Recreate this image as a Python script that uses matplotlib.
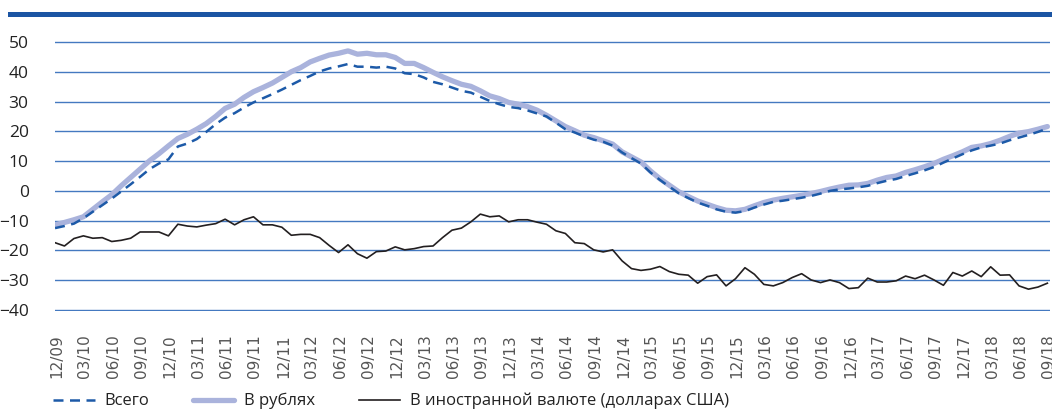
import numpy as np
import pandas as pd
import matplotlib
matplotlib.use('Agg')
import matplotlib.pyplot as plt
import matplotlib.transforms as mtransforms
from matplotlib.patches import Rectangle

# monthly, 12/2009 .. 09/2018
months = pd.period_range('2009-12', '2018-09', freq='M')
tick_labels = [p.strftime('%m/%y') for p in months][::3]

total = [-12.5, -11.8, -11.0, -9.2, -7.0, -4.8, -2.6, -0.2, 2.2, 4.7, 7.3, 9.2, 10.6, 14.9, 15.9, 17.4,
         19.8, 22.4, 24.6, 26.1, 28.0, 29.7, 31.1, 32.5, 34.0, 35.6, 37.2,
         38.6, 40.1, 41.1, 41.8, 42.6, 41.7, 41.7, 41.4, 41.7, 41.1, 39.5, 39.2, 38.1, 36.6, 35.8, 34.7,
         33.6, 33.0, 31.6, 30.2, 29.1, 28.2, 27.8, 27.0, 26.0,
         25.0, 22.9, 20.7, 19.6, 18.3, 17.2, 16.5, 15.2, 12.9, 11.0, 9.2, 6.2, 3.7, 1.4, -0.8, -2.4,
         -3.9, -5.0, -6.2, -7.0, -7.3, -6.8, -5.6, -4.6, -3.7,
         -3.3, -2.8, -2.3, -1.7, -0.9, 0.0, 0.5, 0.8, 1.2, 1.7, 2.6, 3.4, 4.0, 5.0, 5.9, 6.9, 8.0, 9.5,
         10.9, 12.3, 13.6, 14.6, 15.2, 15.9, 17.0, 17.9, 18.8, 19.8, 20.9]

rub = [-11.4, -10.6, -9.7, -8.7, -6.2, -3.7, -1.3, 1.7, 4.5, 7.3, 10.1, 12.5, 15.1, 17.6, 19.0, 20.7,
       22.6, 25.0, 27.7, 29.1, 31.4, 33.3, 34.7, 36.2, 38.1, 40.0, 41.4,
       43.3, 44.5, 45.6, 46.2, 47.0, 45.9, 46.2, 45.7, 45.7, 44.8, 42.8, 42.8, 41.4, 39.8, 38.3, 37.0,
       35.8, 35.1, 33.6, 31.9, 31.0, 29.7, 29.1, 28.3, 27.1,
       25.4, 23.5, 21.6, 20.2, 18.7, 17.9, 16.8, 15.7, 13.1, 11.4, 9.7, 6.7, 4.1, 1.9, -0.3, -1.9,
       -3.4, -4.5, -5.6, -6.5, -6.7, -6.2, -5.0, -3.9, -3.1,
       -2.5, -2.0, -1.5, -0.9, -0.2, 0.6, 1.3, 1.9, 2.0, 2.5, 3.6, 4.5, 5.0, 6.2, 7.1, 8.1, 9.2, 10.6,
       11.8, 13.1, 14.6, 15.1, 15.9, 17.0, 18.3, 19.4, 19.9, 20.7, 21.6]

fx = [-17.4, -18.5, -16.0, -15.1, -15.9, -15.7, -17.0, -16.6, -15.9, -13.8, -13.8, -13.8, -15.1, -11.2,
      -11.8, -12.1, -11.5, -11.0, -9.5, -11.4, -9.7, -8.7, -11.4, -11.4, -12.2, -14.9, -14.6,
      -14.6, -15.7, -18.3, -20.7, -18.1, -21.1, -22.6, -20.4, -20.2, -18.8, -19.8, -19.4, -18.7, -18.5,
      -15.7, -13.2, -12.5, -10.4, -7.8, -8.7, -8.4, -10.4, -9.7, -9.7, -10.5,
      -11.2, -13.4, -14.3, -17.4, -17.7, -19.8, -20.5, -19.8, -23.5, -26.1, -26.7, -26.3, -25.4, -27.1,
      -28.0, -28.3, -31.0, -28.8, -28.2, -31.9, -29.5, -25.8, -28.0, -31.4, -31.9,
      -30.8, -29.1, -27.8, -29.9, -30.8, -29.9, -30.8, -32.8, -32.5, -29.3, -30.6, -30.6, -30.2, -28.6,
      -29.5, -28.3, -29.9, -31.7, -27.4, -28.6, -26.9, -28.8, -25.5, -28.3, -28.2, -31.9, -33.0, -32.3, -31.0]

labels = ['Всего', 'В рублях', 'В иностранной валюте (долларах США)']

x = np.arange(len(months))

fig = plt.figure(figsize=(10.52, 4.11), dpi=100)
ax = fig.add_axes([0.0523, 0.2421, 0.946, 0.6594])

# top banner line
fig.add_artist(Rectangle((8 / 1052, 1 - 17 / 411), 1, 5 / 411, transform=fig.transFigure,
                         facecolor='#1b55a3', edgecolor='none'))

l2, = ax.plot(x, rub, color='#aab3dc', lw=3.8, solid_capstyle='round', zorder=3)
l1, = ax.plot(x, total, color='#1d5aa8', lw=1.8, dashes=(4, 2.6), zorder=4)
l3, = ax.plot(x, fx, color='#231f20', lw=1.2, zorder=5)

ax.set_xlim(0, 105.3)
ax.set_ylim(-40.5, 50.5)
ax.set_yticks(np.arange(-40, 51, 10))
ax.grid(axis='y', color='#4479c0', lw=1.0)
ax.set_axisbelow(True)
for s in ax.spines.values():
    s.set_visible(False)

ax.set_xticks(x[::3])
ax.tick_params(axis='x', length=0, pad=16.5)
ax.tick_params(axis='y', length=0, pad=19, labelsize=12.5, labelcolor='#222222')
ax.set_xticklabels(tick_labels, rotation=90, fontsize=11, family='DejaVu Sans', color='#555555')
offset = mtransforms.ScaledTranslation(1.5 / 100, 0, fig.dpi_scale_trans)
for lab in ax.get_xticklabels():
    lab.set_transform(lab.get_transform() + offset)
for lab in ax.get_yticklabels():
    lab.set_family(['Open Sans', 'DejaVu Sans'])

leg = fig.legend([l1, l2, l3], labels, loc='center left', bbox_to_anchor=(0.036, 0.024),
                 ncol=3, frameon=False, handlelength=2.5, columnspacing=2.6, handletextpad=0.6,
                 prop={'family': ['Open Sans', 'DejaVu Sans'], 'size': 12})
for t in leg.get_texts():
    t.set_color('#222222')

fig.savefig('out.png', dpi=100)
